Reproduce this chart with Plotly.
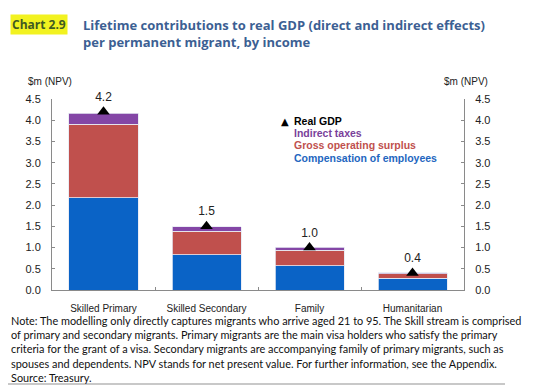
import plotly.graph_objects as go

categories = ["Skilled Primary", "Skilled Secondary", "Family", "Humanitarian"]
compensation = [2.17, 0.83, 0.57, 0.28]
gross_surplus = [1.74, 0.56, 0.37, 0.10]
indirect_taxes = [0.26, 0.10, 0.07, 0.03]
real_gdp = [4.2, 1.5, 1.0, 0.4]
real_gdp_labels = ["4.2", "1.5", "1.0", "0.4"]
y_ticks = [0, 0.5, 1.0, 1.5, 2.0, 2.5, 3.0, 3.5, 4.0, 4.5]

BLUE = "#0a63c6"
RED = "#c0504d"
PURPLE = "#8446a6"
TITLE = "#3c5f93"
FONT = "Liberation Sans, Arial, sans-serif"

# the page body adds an 8px offset; work in screen pixels and convert
OFF = 8
W, H = 536 - OFF, 386 - OFF
PL, PR, PT, PB = 52, 464, 99, 290  # plot area in screen pixels


def px(sx):
    return (sx - PL) / (PR - PL)


def py(sy):
    return (PB - sy) / (PB - PT)


fig = go.Figure()
for name, vals, col in [("Compensation of employees", compensation, BLUE),
                        ("Gross operating surplus", gross_surplus, RED),
                        ("Indirect taxes", indirect_taxes, PURPLE)]:
    fig.add_trace(go.Bar(x=categories, y=vals, name=name, marker_color=col,
                         marker_line=dict(color="#e6e9f2", width=0.8),
                         width=0.67, showlegend=False))

fig.add_trace(go.Scatter(x=categories, y=real_gdp, mode="markers+text",
                         text=real_gdp_labels, textposition="top center",
                         textfont=dict(size=12, color="#222", family=FONT),
                         marker=dict(symbol="triangle-up", size=11, color="black"),
                         showlegend=False, cliponaxis=False))
# invisible trace to activate the right axis
fig.add_trace(go.Scatter(x=categories, y=real_gdp, yaxis="y2", mode="markers",
                         marker=dict(opacity=0), showlegend=False, hoverinfo="skip"))

axis_common = dict(range=[0, 4.5], tickvals=y_ticks,
                   ticktext=[f"{v:.1f}" for v in y_ticks],
                   showgrid=False, zeroline=False, showline=True,
                   linecolor="#8a8a8a", linewidth=1, ticks="inside", ticklen=3,
                   tickcolor="#8a8a8a", ticklabelstandoff=8,
                   tickfont=dict(size=11, color="#222", family=FONT))

fig.update_layout(
    width=W, height=H,
    margin=dict(l=PL - OFF, r=W - (PR - OFF), t=PT - OFF, b=H - (PB - OFF)),
    paper_bgcolor="white", plot_bgcolor="white",
    barmode="stack",
    font=dict(family=FONT),
    xaxis=dict(showgrid=False, showline=True, linecolor="#8a8a8a", linewidth=1,
               ticks="inside", tickson="boundaries", ticklen=3, tickcolor="#8a8a8a",
               ticklabelstandoff=9,
               tickfont=dict(size=10, color="#222", family=FONT)),
    yaxis=dict(**axis_common),
    yaxis2=dict(overlaying="y", side="right", **axis_common),
)

ann = []
# title
ann.append(dict(xref="paper", yref="paper", x=px(10), y=py(25), xanchor="left", yanchor="middle",
                text="<b>Chart 2.9</b>", showarrow=False, bgcolor="#f2f220",
                font=dict(size=12, color="#3f5a22", family="Open Sans, sans-serif"), borderpad=1))
ann.append(dict(xref="paper", yref="paper", x=px(81), y=py(34), xanchor="left", yanchor="middle",
                align="left",
                text="<b>Lifetime contributions to real GDP (direct and indirect effects)<br>per permanent migrant, by income</b>",
                showarrow=False, font=dict(size=13, color=TITLE, family="Open Sans, sans-serif")))
# axis titles
ann.append(dict(xref="paper", yref="paper", x=px(26), y=py(81), xanchor="left", yanchor="middle",
                text="$m (NPV)", showarrow=False, font=dict(size=10, color="#222", family=FONT)))
ann.append(dict(xref="paper", yref="paper", x=px(442), y=py(81), xanchor="left", yanchor="middle",
                text="$m (NPV)", showarrow=False, font=dict(size=10, color="#222", family=FONT)))
# legend
ann.append(dict(xref="paper", yref="paper", x=px(285), y=py(121), xanchor="center", yanchor="middle",
                text="▲", showarrow=False, font=dict(size=10, color="black", family="DejaVu Sans")))
leg = [("Real GDP", "black"), ("Indirect taxes", "#7a3f9a"),
       ("Gross operating surplus", RED), ("Compensation of employees", "#2366c0")]
for i, (t, c) in enumerate(leg):
    ann.append(dict(xref="paper", yref="paper", x=px(292), y=py(121 + i * 12.2),
                    xanchor="left", yanchor="middle",
                    text=f"<b>{t}</b>", showarrow=False, font=dict(size=10.5, color=c, family=FONT)))
# note
note = ("Note: The modelling only directly captures migrants who arrive aged 21 to 95. The Skill stream is comprised<br>"
        "of primary and secondary migrants. Primary migrants are the main visa holders who satisfy the primary<br>"
        "criteria for the grant of a visa. Secondary migrants are accompanying family of primary migrants, such as<br>"
        "spouses and dependents. NPV stands for net present value. For further information, see the Appendix.<br>"
        "Source: Treasury.")
ann.append(dict(xref="paper", yref="paper", x=px(9), y=py(349), xanchor="left", yanchor="middle",
                align="left", text=note, showarrow=False,
                font=dict(size=10.9, color="#111", family="Lato, sans-serif")))
fig.update_layout(annotations=ann)

fig.update_layout(shapes=[
    dict(type="line", xref="paper", yref="paper", x0=px(8), x1=px(505), y0=py(3), y1=py(3),
         line=dict(color="#c8c8c8", width=2)),
    dict(type="line", xref="paper", yref="paper", x0=px(8), x1=px(505), y0=py(384), y1=py(384),
         line=dict(color="#c8c8c8", width=2)),
])

fig.write_html("out.html")
